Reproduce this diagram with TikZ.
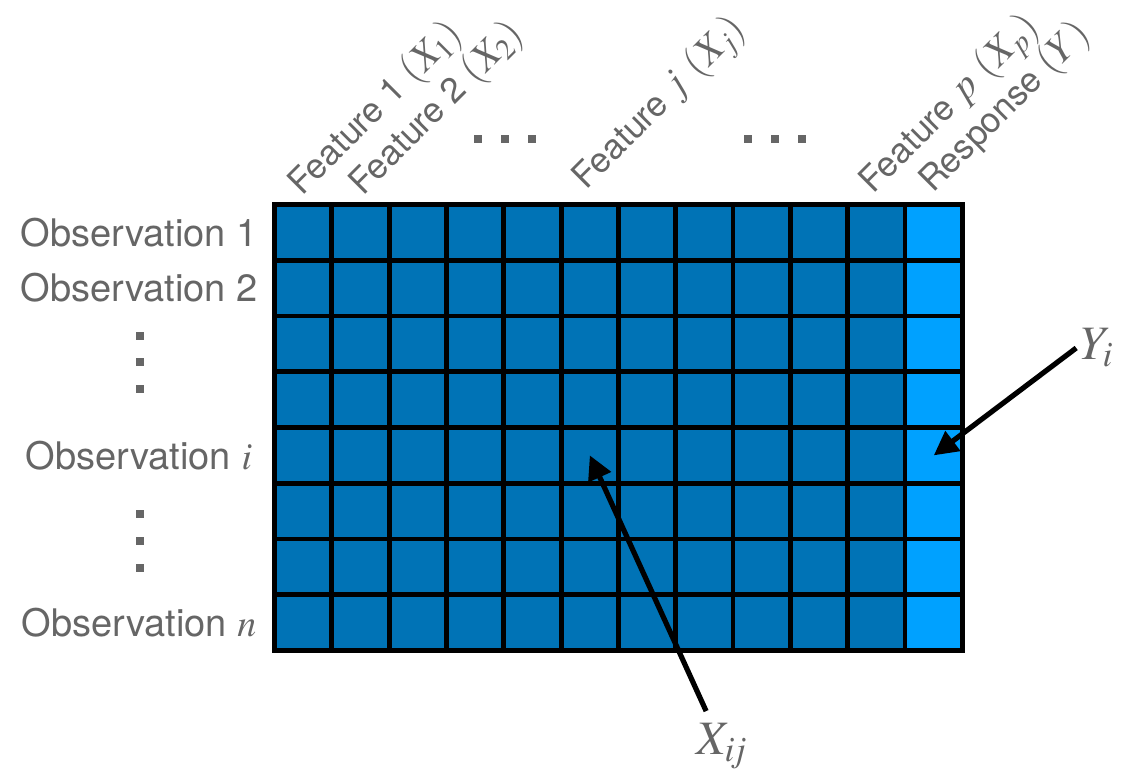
\documentclass[tikz,border=0pt]{standalone}
\usepackage[no-math]{fontspec}
\usepackage{mathptmx}
\setmainfont{TeX Gyre Heros}
\usetikzlibrary{arrows.meta}
\definecolor{txt}{RGB}{102,102,102}
\definecolor{dkblue}{RGB}{0,115,182}
\definecolor{ltblue}{RGB}{0,161,255}
\newcommand{\mbig}[1]{{\fontsize{20}{24}\selectfont#1}}
\begin{document}
\begin{tikzpicture}[x=0.5pt,y=-0.5pt,
  cell/.style={draw=black, line width=2.35pt, minimum width=28.67pt, minimum height=27.875pt, inner sep=0pt},
  rowlbl/.style={text=txt, font=\fontsize{19}{23}\selectfont, inner sep=0pt},
  collbl/.style={text=txt, font=\fontsize{17.5}{21}\selectfont, inner sep=0pt, rotate=45, anchor=base west},
  mlbl/.style={text=txt, font=\fontsize{24}{28}\selectfont, inner sep=2pt},
  dotsq/.style={fill=txt, minimum size=4pt, inner sep=0pt},
  arr/.style={line width=2.6pt, -{Triangle[length=12pt,width=12pt]}}]
\useasboundingbox (0,0) rectangle (1125,770);
% grid
\foreach \r in {1,...,8}{
  \foreach \c in {1,...,12}{
    \ifnum\c=12 \def\cellcol{ltblue}\else\def\cellcol{dkblue}\fi
    \node[cell, fill=\cellcol] (c-\r-\c) at ({274.5+(\c-0.5)*57.33},{204.5+(\r-0.5)*55.75}) {};
  }
}
% row labels
\node[rowlbl] (r1) at (139,232.4) {Observation 1};
\node[rowlbl] (r2) at (139,288.1) {Observation 2};
\node[rowlbl] (ri) at (139,455.4) {Observation $i$};
\node[rowlbl] (rn) at (139,622.6) {Observation $n$};
\node[dotsq] (vd1) at (140,336) {};
\node[dotsq] (vd2) at (140,362) {};
\node[dotsq] (vd3) at (140,389) {};
\node[dotsq] (vd4) at (140,514) {};
\node[dotsq] (vd5) at (140,541) {};
\node[dotsq] (vd6) at (140,568) {};
% column labels
\node[collbl] (f1) at (302,197) {Feature 1 \mbig{$(X_1)$}};
\node[collbl] (f2) at (363,197) {Feature 2 \mbig{$(X_2)$}};
\node[collbl] (fj) at (586,191) {Feature \mbig{$j$ $(X_j)$}};
\node[collbl] (fp) at (873,195) {Feature \mbig{$p$ $(X_p)$}};
\node[collbl] (fy) at (933,194) {Response \mbig{$(Y)$}};
\node[dotsq] (hd1) at (478,139) {};
\node[dotsq] (hd2) at (505,139) {};
\node[dotsq] (hd3) at (532,139) {};
\node[dotsq] (hd4) at (748,139) {};
\node[dotsq] (hd5) at (775,139) {};
\node[dotsq] (hd6) at (802,139) {};
% arrow labels
\node[mlbl] (yl) at (1097,348) {$Y_i$};
\node[mlbl, outer sep=4pt] (xl) at (722,746) {$X_{i\mkern-2mu j}$};
\draw[arr] (yl.west) -- (c-5-12.center);
\draw[arr] (xl) -- (c-5-6.center);
\end{tikzpicture}
\end{document}
